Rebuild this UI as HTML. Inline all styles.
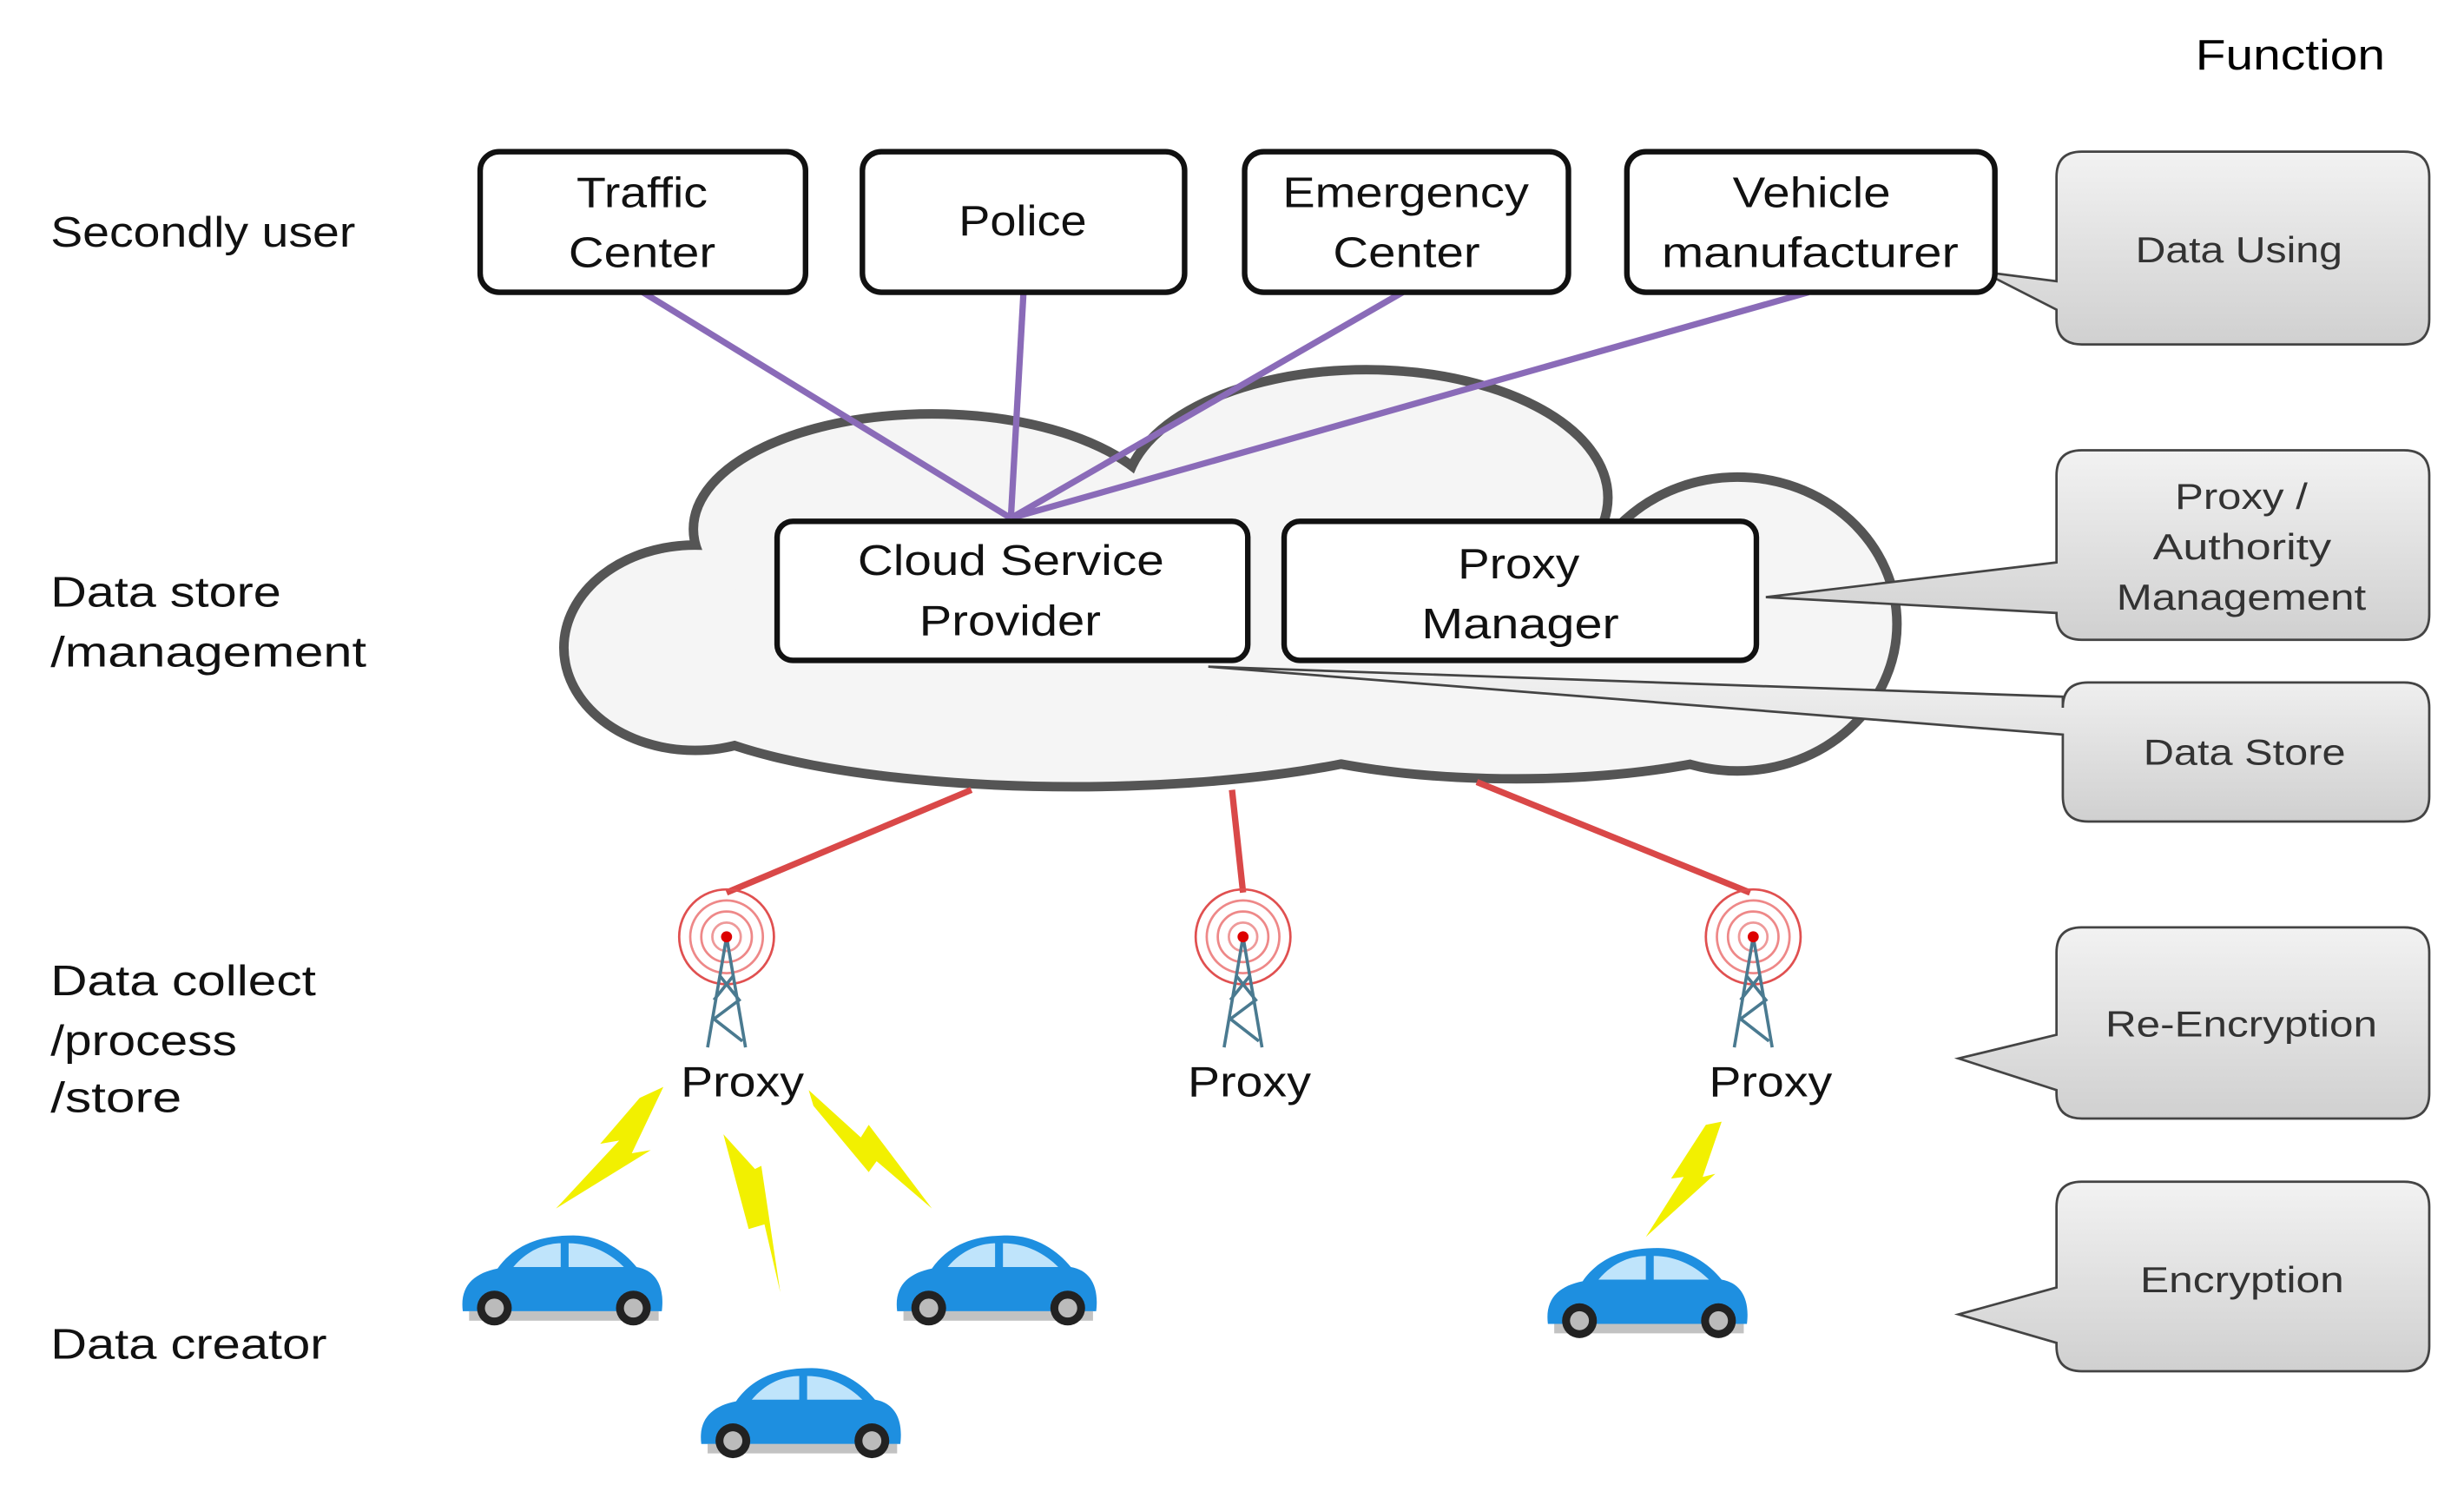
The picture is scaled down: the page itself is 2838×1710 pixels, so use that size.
<!DOCTYPE html>
<html><head><meta charset="utf-8"><style>
html,body{margin:0;padding:0;background:#fff;}
svg{display:block;}
text{font-family:"Liberation Sans",sans-serif;}
</style></head><body>
<svg width="2838" height="1710" viewBox="0 0 1560 940" preserveAspectRatio="none" xmlns="http://www.w3.org/2000/svg">
<defs>
<linearGradient id="g" x1="0" y1="0" x2="0" y2="1"><stop offset="0" stop-color="#f2f2f2"/><stop offset="1" stop-color="#d0d0d0"/></linearGradient>
<g id="car">
<path d="M-62,18 C-64,2 -55,-6 -40,-9 C-28,-26 -10,-30 8,-30 C26,-30 40,-20 48,-10 C60,-8 66,2 64,18 Z" fill="#1e8fe0"/>
<path d="M-30,-10 C-20,-22 -8,-25 0,-25 L0,-10 Z M5,-25 C20,-25 32,-18 40,-10 L5,-10 Z" fill="#bfe4fb"/>
<rect x="-58" y="18" width="120" height="6" fill="#999" opacity="0.6"/>
<circle cx="-42" cy="16" r="11" fill="#222"/><circle cx="-42" cy="16" r="6" fill="#bbb"/>
<circle cx="46" cy="16" r="11" fill="#222"/><circle cx="46" cy="16" r="6" fill="#bbb"/>
</g>
<g id="tower">
<circle r="30" fill="none" stroke="#e05050" stroke-width="1.5"/>
<circle r="23" fill="none" stroke="#e88" stroke-width="1.5"/>
<circle r="16" fill="none" stroke="#e88" stroke-width="1.5"/>
<circle r="9" fill="none" stroke="#e99" stroke-width="1.5"/>
<path d="M0,0 L-12,70 M0,0 L12,70 M-4,25 L8,40 L-8,52 L10,66 M4,25 L-8,40" stroke="#4a7a90" stroke-width="2" fill="none"/>
<circle r="3.5" fill="#d00"/>
</g>
</defs>

<g lengthAdjust="spacingAndGlyphs">
<text x="1390" y="44" font-size="27" textLength="120" lengthAdjust="spacingAndGlyphs">Function</text>
<g font-size="27" fill="#111">
<text x="32" y="156" textLength="193" lengthAdjust="spacingAndGlyphs">Secondly user</text>
<text x="32" y="384" textLength="146" lengthAdjust="spacingAndGlyphs">Data store</text>
<text x="32" y="422" textLength="200" lengthAdjust="spacingAndGlyphs">/management</text>
<text x="32" y="630" textLength="168" lengthAdjust="spacingAndGlyphs">Data collect</text>
<text x="32" y="668" textLength="118" lengthAdjust="spacingAndGlyphs">/process</text>
<text x="32" y="704" textLength="83" lengthAdjust="spacingAndGlyphs">/store</text>
<text x="32" y="860" textLength="175" lengthAdjust="spacingAndGlyphs">Data creator</text>
</g>
</g>

<!-- cloud -->
<g stroke="#555" stroke-width="12" fill="#555">
<ellipse cx="440" cy="410" rx="80" ry="62"/>
<ellipse cx="590" cy="335" rx="148" ry="70"/>
<ellipse cx="865" cy="315" rx="150" ry="78"/>
<ellipse cx="1100" cy="395" rx="98" ry="90"/>
<ellipse cx="680" cy="435" rx="260" ry="60"/>
<ellipse cx="960" cy="440" rx="190" ry="50"/>
</g>
<g fill="#f5f5f5">
<ellipse cx="440" cy="410" rx="80" ry="62"/>
<ellipse cx="590" cy="335" rx="148" ry="70"/>
<ellipse cx="865" cy="315" rx="150" ry="78"/>
<ellipse cx="1100" cy="395" rx="98" ry="90"/>
<ellipse cx="680" cy="435" rx="260" ry="60"/>
<ellipse cx="960" cy="440" rx="190" ry="50"/>
</g>

<!-- purple lines -->
<g stroke="#8a6bb8" stroke-width="4">
<line x1="640" y1="328" x2="407" y2="185"/>
<line x1="640" y1="328" x2="648" y2="185"/>
<line x1="640" y1="328" x2="888" y2="185"/>
<line x1="640" y1="328" x2="1145" y2="185"/>
</g>

<!-- callouts -->
<g fill="url(#g)" stroke="#444" stroke-width="1.5">
<path d="M1318,96 H1522 Q1538,96 1538,112 V202 Q1538,218 1522,218 H1318 Q1302,218 1302,202 V196 L1255,172 L1302,178 V112 Q1302,96 1318,96 Z"/>
<path d="M1318,285 H1522 Q1538,285 1538,301 V389 Q1538,405 1522,405 H1318 Q1302,405 1302,389 V388 L1118,378 L1302,356 V301 Q1302,285 1318,285 Z"/>
<path d="M1322,432 H1522 Q1538,432 1538,448 V504 Q1538,520 1522,520 H1322 Q1306,520 1306,504 V465 L765,422 L1306,441 V448 Q1306,432 1322,432 Z"/>
<path d="M1318,587 H1522 Q1538,587 1538,603 V692 Q1538,708 1522,708 H1318 Q1302,708 1302,692 V690 L1240,670 L1302,655 V603 Q1302,587 1318,587 Z"/>
<path d="M1318,748 H1522 Q1538,748 1538,764 V852 Q1538,868 1522,868 H1318 Q1302,868 1302,852 V850 L1240,832 L1302,815 V764 Q1302,748 1318,748 Z"/>
</g>
<g font-size="23" fill="#333">
<text x="1352" y="166" textLength="131" lengthAdjust="spacingAndGlyphs">Data Using</text>
<text x="1377" y="322" textLength="84" lengthAdjust="spacingAndGlyphs">Proxy /</text>
<text x="1363" y="354" textLength="113" lengthAdjust="spacingAndGlyphs">Authority</text>
<text x="1340" y="386" textLength="158" lengthAdjust="spacingAndGlyphs">Management</text>
<text x="1357" y="484" textLength="128" lengthAdjust="spacingAndGlyphs">Data Store</text>
<text x="1333" y="656" textLength="172" lengthAdjust="spacingAndGlyphs">Re-Encryption</text>
<text x="1355" y="818" textLength="129" lengthAdjust="spacingAndGlyphs">Encryption</text>
</g>

<!-- boxes -->
<g fill="#fff" stroke="#111" stroke-width="3.5">
<rect x="304" y="96" width="206" height="89" rx="12"/>
<rect x="546" y="96" width="204" height="89" rx="12"/>
<rect x="788" y="96" width="205" height="89" rx="12"/>
<rect x="1030" y="96" width="233" height="89" rx="12"/>
<rect x="492" y="330" width="298" height="88" rx="10"/>
<rect x="813" y="330" width="299" height="88" rx="10"/>
</g>
<g font-size="27" fill="#111">
<text x="365" y="131" textLength="83" lengthAdjust="spacingAndGlyphs">Traffic</text>
<text x="360" y="169" textLength="93" lengthAdjust="spacingAndGlyphs">Center</text>
<text x="607" y="149" textLength="81" lengthAdjust="spacingAndGlyphs">Police</text>
<text x="812" y="131" textLength="156" lengthAdjust="spacingAndGlyphs">Emergency</text>
<text x="844" y="169" textLength="93" lengthAdjust="spacingAndGlyphs">Center</text>
<text x="1097" y="131" textLength="100" lengthAdjust="spacingAndGlyphs">Vehicle</text>
<text x="1052" y="169" textLength="188" lengthAdjust="spacingAndGlyphs">manufacturer</text>
<text x="543" y="364" textLength="194" lengthAdjust="spacingAndGlyphs">Cloud Service</text>
<text x="582" y="402" textLength="115" lengthAdjust="spacingAndGlyphs">Provider</text>
<text x="923" y="366" textLength="77" lengthAdjust="spacingAndGlyphs">Proxy</text>
<text x="900" y="404" textLength="125" lengthAdjust="spacingAndGlyphs">Manager</text>
</g>

<!-- red lines -->
<g stroke="#d94848" stroke-width="4">
<line x1="615" y1="500" x2="460" y2="565"/>
<line x1="780" y1="500" x2="787" y2="565"/>
<line x1="935" y1="495" x2="1108" y2="565"/>
</g>
<use href="#tower" x="460" y="593"/>
<use href="#tower" x="787" y="593"/>
<use href="#tower" x="1110" y="593"/>
<g font-size="27" fill="#111">
<text x="431" y="694" textLength="78" lengthAdjust="spacingAndGlyphs">Proxy</text>
<text x="752" y="694" textLength="78" lengthAdjust="spacingAndGlyphs">Proxy</text>
<text x="1082" y="694" textLength="78" lengthAdjust="spacingAndGlyphs">Proxy</text>
</g>

<!-- lightning -->
<g fill="#f2f000">
<polygon points="420,688 400,730 412,728 352,765 392,722 380,724 405,695"/>
<polygon points="458,718 478,740 482,738 494,818 484,775 474,778"/>
<polygon points="512,690 545,720 550,712 590,765 555,735 550,742 515,700"/>
<polygon points="1090,710 1078,745 1086,743 1042,783 1066,745 1058,746 1080,712"/>
</g>

<use href="#car" x="355" y="812"/>
<use href="#car" x="630" y="812"/>
<use href="#car" x="506" y="896"/>
<use href="#car" x="1042" y="820"/>
</svg>
</body></html>
